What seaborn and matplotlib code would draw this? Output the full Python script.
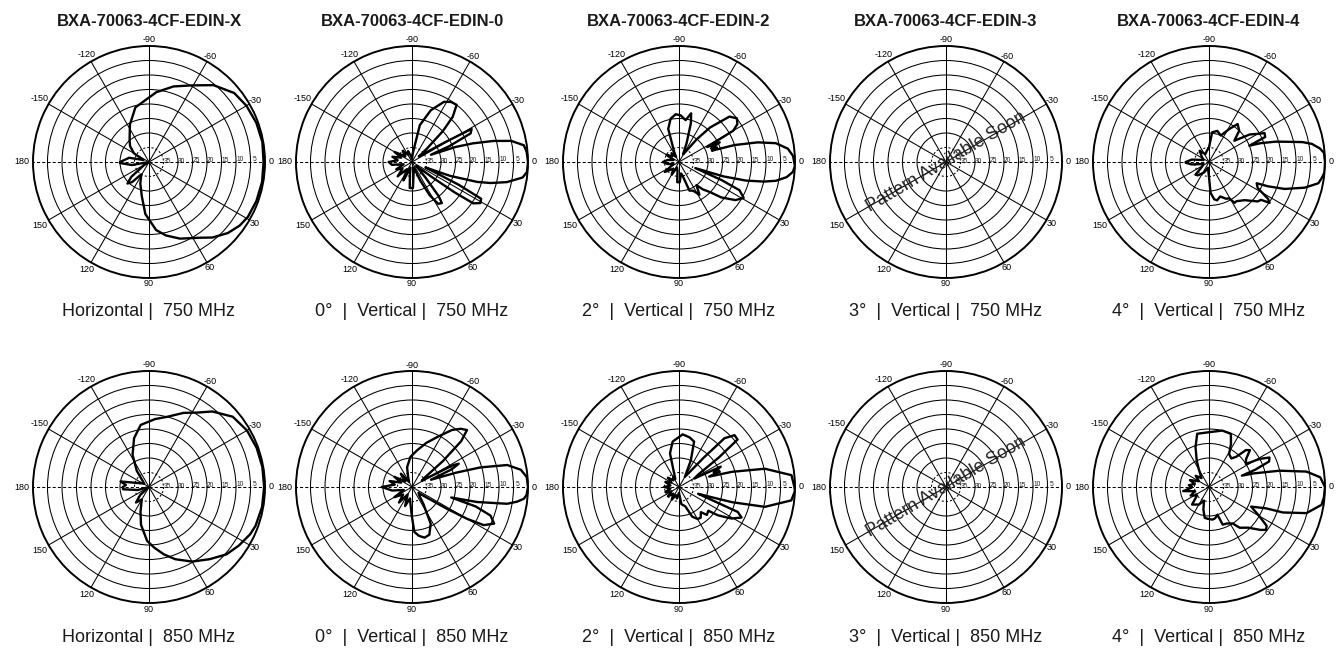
import numpy as np
import pandas as pd
import matplotlib
matplotlib.use("Agg")
import matplotlib.pyplot as plt
import seaborn as sns

# titles / captions
TITLES = ["BXA-70063-4CF-EDIN-X", "BXA-70063-4CF-EDIN-0", "BXA-70063-4CF-EDIN-2",
          "BXA-70063-4CF-EDIN-3", "BXA-70063-4CF-EDIN-4"]
CAPTIONS_750 = ["Horizontal |  750 MHz", "0°  |  Vertical |  750 MHz", "2°  |  Vertical |  750 MHz",
                "3°  |  Vertical |  750 MHz", "4°  |  Vertical |  750 MHz"]
CAPTIONS_850 = ["Horizontal |  850 MHz", "0°  |  Vertical |  850 MHz", "2°  |  Vertical |  850 MHz",
                "3°  |  Vertical |  850 MHz", "4°  |  Vertical |  850 MHz"]
SOON_TEXT = "Pattern Available Soon"

ANGLE_TICKS = [0, 30, 60, 90, 120, 150, 180, -150, -120, -90, -60, -30]
RING_DB = [-35, -30, -25, -20, -15, -10, -5]
RING_LABELS = ["35", "30", "25", "20", "15", "10", "5"]

# antenna patterns: angle (deg, -90 = up) / gain (dB)
hor750_ang = [-180, -168, -160, -150, -140, -132, -117, -104, -84, -72, -61, -50, -39, -30, -20, -10,
              0, 10, 20, 29, 35, 42, 50, 56, 68, 77, 84, 94, 102, 112, 122, 130, 135, 140, 148, 160, 170, 178]
hor750_db = [-30, -33, -38, -34, -31.5, -30, -25.5, -20.6, -15.8, -12.6, -9.8, -5.4, -2.2, -1.2, -0.6, -0.3,
             -0.5, -0.4, -0.6, -1, -1.8, -3.4, -6, -8.5, -11.5, -14, -16.4, -22, -28, -32, -35, -31, -29.5, -32,
             -38, -40, -34, -30]

hor850_ang = [-180, -175, -169, -160, -145, -127, -117, -107, -97.6, -85, -75.5, -65, -57, -50, -40, -30,
              -20, -10, 0, 10, 20, 25, 33, 41, 50, 60, 70, 77.5, 85, 92, 102, 109, 120, 130, 138, 150, 165, 175]
hor850_db = [-31, -32, -30, -36, -38, -33, -27.5, -22.4, -18.4, -16.5, -15, -11.8, -9.4, -6, -2.3, -1.0,
             -0.5, -0.3, -0.3, -0.4, -0.9, -1.5, -3, -4.6, -7.5, -10.3, -13.5, -16.2, -19, -21.4, -26.7, -31,
             -35, -33, -36, -40, -36, -31]

v0_750_ang = [-180, -173, -165, -158, -150, -140, -130, -120, -110, -100, -90, -85, -78, -70, -62, -57, -52,
              -48, -45, -42, -38, -34, -31, -29, -26, -23, -21, -19, -17, -14.5, -12, -8.5, -5, 0, 5, 8, 12,
              15, 17, 20, 22, 24, 26, 28, 31, 34, 35.5, 37, 40, 44, 49, 52, 54, 58, 62, 66, 72, 82, 88, 95,
              100, 105, 115, 125, 135, 145, 155, 165, 172]
v0_750_db = [-32, -35, -33, -36, -33, -37, -35, -37, -36, -38, -39, -37, -27, -21, -16.5, -15.3, -15,
             -19, -25, -33, -37, -34, -27, -16.5, -17.5, -26, -33, -24, -18, -11, -5, -1, -0.3, 0, -0.2, -1.5,
             -6.6, -12, -16.5, -26, -35, -32, -22, -13, -12.5, -14.5, -22, -31, -37, -38, -33, -25, -22.5, -23,
             -27, -33, -38, -36, -31, -31, -36, -38, -33, -37, -33, -36, -34, -37, -33]

v2_750_ang = [-180, -170, -160, -150, -140, -130, -120, -115, -108, -101, -94, -88, -81, -76, -73, -68, -62,
              -58, -52, -48, -42, -37, -33, -30, -28, -25.8, -23, -21, -19, -17, -14, -11, -7, -3, 0, 2, 5,
              8, 11, 13, 15.5, 18, 20.5, 23, 25, 29, 34, 40, 44, 49, 53, 58, 64, 70, 75, 80, 88, 95, 100,
              110, 120, 130, 145, 160, 170]
v2_750_db = [-34.5, -36, -38, -35, -37, -36, -38, -36, -28, -24.8, -23.5, -23.9, -25.4, -22.7, -26, -33, -37,
             -36, -30, -24, -16.6, -15, -16, -18.4, -29, -24.4, -28, -26, -28, -20, -12, -6, -2.2, -0.6, -0.3,
             0, -0.6, -2.5, -6, -10, -16, -24, -34, -24, -17, -14.5, -16.5, -21, -25, -27.5, -30, -26.7, -29,
             -29.5, -35, -36, -33, -33, -37, -38, -35, -37, -34, -38, -36]

v4_750_ang = [-180, -172, -160, -145, -130, -115, -100, -90, -84, -75, -66, -58.5, -53, -46, -40, -34, -30,
              -27.5, -24, -22, -20, -17, -15, -12, -10, -7, -4.5, 0, 5, 8, 11, 15, 19.6, 22.4, 24, 28, 32, 34,
              36, 39, 47, 55, 58, 61, 65, 72, 78, 82, 87, 92, 100, 115, 130, 137, 145, 160, 172, 178]
v4_750_db = [-32, -34, -38, -37, -35, -37, -36, -35, -29.7, -28.9, -30, -26.7, -23.6, -25, -28.6, -23, -20.6,
             -18.4, -18.8, -25, -21, -16, -13, -7, -4, -1.5, -0.2, 0, 0, -0.7, -1.6, -5.8, -12.3, -18, -22, -21,
             -16, -14.8, -17.8, -18.4, -22, -23.5, -23.4, -25.7, -26, -27.5, -26.5, -27, -29.3, -36, -38, -36,
             -34, -33.6, -37, -38, -34, -32]

v0_850_ang = [-180, -172, -165, -158, -150, -140, -130, -120, -110, -104, -93, -82, -72, -63, -55, -50, -46,
              -43, -40, -36, -32, -30, -28, -26.5, -24, -21, -18, -16, -13, -9, -5, 0, 4, 6, 8, 10, 13, 15,
              17, 20, 24, 28, 30, 32, 36, 42, 50, 56, 63, 70, 76, 82, 87, 90, 95, 100, 110, 120, 130, 140,
              150, 160, 170]
v0_850_db = [-29.6, -34, -32, -36, -33, -37, -34, -38, -36, -33, -29.6, -27.2, -24, -20.6, -16, -13.8, -12.7,
             -16.8, -26, -35, -36, -33, -24, -22, -25, -33, -24, -15.5, -6.3, -2, -0.3, 0, -0.4, -1.2, -3.5,
             -6.7, -17, -26, -17, -11.2, -9, -12, -18, -26, -34, -37, -36, -33, -25.8, -22.5, -22, -23, -24.5,
             -29.6, -34, -36, -33, -37, -33, -36, -33, -37, -33]

v2_850_ang = [-180, -170, -160, -150, -140, -130, -120, -115, -105, -98, -86, -78, -71.6, -66, -60, -55, -50,
              -47, -43, -39, -36.5, -33, -29, -26, -23, -21, -19, -16, -12, -6, 0, 2, 6.8, 13, 16, 18, 19.5,
              23, 26, 31, 36, 39, 45, 49, 55, 60, 66, 72, 82, 90, 100, 110, 120, 130, 140, 150, 160, 170]
v2_850_db = [-35, -37, -35, -37, -35, -37, -36, -37, -28, -24.2, -21.8, -22.5, -23.5, -30, -36, -34, -27,
             -17, -13.8, -14, -23, -32, -34, -24, -27, -25, -29, -21, -9.7, -1, -0.2, 0, -1, -9.6, -21, -30,
             -33, -18, -16, -18.9, -23.4, -27, -26.4, -28.5, -27, -27.3, -28.8, -33, -34, -38, -36, -37, -35,
             -37, -35, -37, -35, -37]

v4_850_ang = [-180, -175, -168, -160, -150, -140, -130, -120, -115, -108.7, -102.5, -90, -76.6, -67.6, -63,
              -58.5, -52, -48, -45, -42, -37, -32, -29, -26, -23, -20.5, -19, -17, -13, -9, -5, 0, 5, 9, 15,
              19, 20.5, 25, 30, 34, 37, 40, 46, 53, 57, 64, 70, 73, 79, 84, 92, 98, 104, 110, 120, 134, 145,
              155, 163, 171, 178]
v4_850_db = [-34, -33, -35, -33, -36, -34, -36, -33, -30, -25.5, -21.2, -21.1, -20, -20.2, -23.3, -26.7,
             -27.5, -26, -22, -21, -24, -25, -20, -16.8, -17.5, -23, -28, -24, -15, -6, -1.5, 0, -0.2, -0.7,
             -5.2, -13, -19, -24, -20, -16, -15.4, -17, -20.5, -22.4, -25, -26, -26.2, -30, -29, -28.7, -29,
             -29.3, -32, -35, -33, -31.6, -35, -33, -35, -31, -34]

PATTERNS_750 = [(hor750_ang, hor750_db), (v0_750_ang, v0_750_db), (v2_750_ang, v2_750_db), None,
                (v4_750_ang, v4_750_db)]
PATTERNS_850 = [(hor850_ang, hor850_db), (v0_850_ang, v0_850_db), (v2_850_ang, v2_850_db), None,
                (v4_850_ang, v4_850_db)]

W, H = 1337, 655
CX = [149, 412, 679, 946, 1209]
CY = [162, 487]
R = 116
DB_PER_PX = 40 / R

sns.set_theme(style="white")
plt.rcParams["font.family"] = ["Liberation Sans", "DejaVu Sans"]

fig = plt.figure(figsize=(W / 100, H / 100), dpi=100)


def draw_panel(cx, cy, pattern):
    ax = fig.add_axes([(cx - R) / W, 1 - (cy + R) / H, 2 * R / W, 2 * R / H], projection="polar")
    ax.set_theta_zero_location("E")
    ax.set_theta_direction(-1)
    ax.set_facecolor("white")

    if pattern is not None:
        ang, db = pattern
        df = pd.DataFrame({"theta": np.deg2rad(np.mod(ang, 360)), "gain": db})
        df = pd.concat([df, df.iloc[:1]], ignore_index=True)
        sns.lineplot(data=df, x="theta", y="gain", sort=False, estimator=None,
                     color="black", linewidth=1.7, ax=ax)
    ax.set_xlabel("")
    ax.set_ylabel("")

    ax.set_xticks(np.deg2rad(np.mod(ANGLE_TICKS, 360)))
    ax.set_xticklabels([])
    ax.set_thetalim(0, 2 * np.pi)
    ax.set_ylim(-40, 0)
    ax.set_yticks(RING_DB)
    ax.set_yticklabels([])
    ax.grid(True, color="black", linewidth=0.75)
    ax.spines["polar"].set_color("black")
    ax.spines["polar"].set_linewidth(1.4)

    xgrid = ax.xaxis.get_gridlines()
    xgrid[0].set_linestyle((0, (3, 2)))
    xgrid[6].set_linestyle((0, (3, 2)))
    ax.yaxis.get_gridlines()[0].set_linestyle((0, (2, 2)))

    # angle labels just outside the rim
    for a in ANGLE_TICKS:
        t = np.deg2rad(a)
        off_px = 6 + 5 * max(0.0, -np.cos(t))
        ax.text(np.mod(t, 2 * np.pi), off_px * DB_PER_PX, str(a), fontsize=6.5,
                ha="center", va="center", color="black", clip_on=False)

    for val, lab in zip(RING_DB, RING_LABELS):
        ax.text(np.deg2rad(358.5), val + 1.3, lab, fontsize=4.8, ha="center", va="center", color="#222222")

    if pattern is None:
        ax.text(0.5, 0.5, SOON_TEXT, transform=ax.transAxes, rotation=30.5, fontsize=13,
                color="#222222", ha="center", va="center", rotation_mode="anchor")
    return ax


for i in range(5):
    draw_panel(CX[i], CY[0], PATTERNS_750[i])
    draw_panel(CX[i], CY[1], PATTERNS_850[i])
    fig.text(CX[i] / W, 1 - 21 / H, TITLES[i], ha="center", va="center",
             fontsize=12, fontweight="bold", color="#1a1a1a")
    fig.text(CX[i] / W, 1 - 311 / H, CAPTIONS_750[i], ha="center", va="center",
             fontsize=13, color="#1a1a1a")
    fig.text(CX[i] / W, 1 - 637 / H, CAPTIONS_850[i], ha="center", va="center",
             fontsize=13, color="#1a1a1a")

fig.savefig("out.png", dpi=100, facecolor="white")
